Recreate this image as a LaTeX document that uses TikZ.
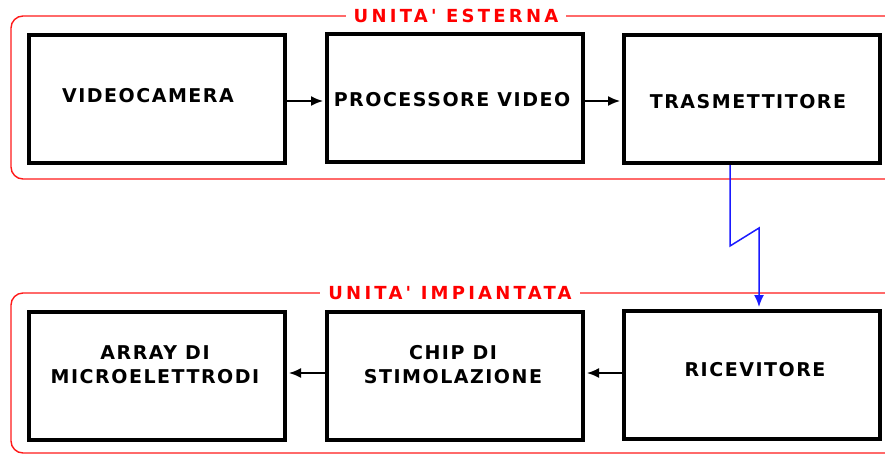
\documentclass[tikz,border=0pt]{standalone}
\usepackage{fontspec}
\setmainfont{DejaVu Sans}
\newfontfamily\boxfont[LetterSpace=8]{DejaVu Sans}
\newfontfamily\tagfont[LetterSpace=18]{DejaVu Sans}
\usepackage{tikz}
\usetikzlibrary{arrows.meta}
\definecolor{frame}{HTML}{FF1A1A}
\definecolor{link}{HTML}{1A1AFF}

\begin{document}
\begin{tikzpicture}[x=1pt,y=-1pt,
  box/.style={draw=black,line width=4pt,fill=white,minimum width=256pt,minimum height=128pt,inner sep=0pt},
  txt/.style={align=center,inner sep=0pt,font=\boxfont\bfseries\fontsize{19}{24}\selectfont},
  unit/.style={draw=frame,line width=1.4pt,rounded corners=12pt},
  tag/.style={fill=white,text=red,inner xsep=8pt,inner ysep=1pt,font=\tagfont\bfseries\fontsize{18}{20}\selectfont},
  arr/.style={-{Latex[length=12pt,width=10pt]},line width=1.6pt,shorten >=2pt},
  zap/.style={-{Latex[length=12pt,width=10pt]},line width=1.5pt,link,shorten >=2pt}]
  \useasboundingbox (0,0) rectangle (885,456);
  \clip (0,0) rectangle (885,456);
  % the two units
  \draw[unit] (11,16) rectangle (900,179);
  \draw[unit] (11,293) rectangle (900,453);
  \node[tag] (est) at (456,16) {UNITA' ESTERNA};
  \node[tag] (imp) at (450,293) {UNITA' IMPIANTATA};
  % external unit
  \node[box] (cam) at (157,99) {};
  \node[box] (proc) at (455,98) {};
  \node[box] (tx) at (752,99) {};
  \node[txt] (camt) at (148,96) {VIDEOCAMERA};
  \node[txt] (proct) at (452,100) {PROCESSORE VIDEO};
  \node[txt] (txt) at (748,102) {TRASMETTITORE};
  % implanted unit
  \node[box] (arr) at (157,376) {};
  \node[box] (chip) at (455,376) {};
  \node[box] (rx) at (752,375) {};
  \node[txt] (arrt) at (155,365) {ARRAY DI\\MICROELETTRODI};
  \node[txt] (chipt) at (453,365) {CHIP DI\\STIMOLAZIONE};
  \node[txt] (rxt) at (755,370) {RICEVITORE};
  \draw[arr] ([yshift=-2pt]cam.east) -- ([yshift=-3pt]proc.west);
  \draw[arr] ([yshift=-3pt]proc.east) -- ([yshift=-2pt]tx.west);
  \draw[arr] ([yshift=2pt]rx.west) -- ([yshift=3pt]chip.east);
  \draw[arr] ([yshift=3pt]chip.west) -- ([yshift=3pt]arr.east);
  % radio link
  \draw[zap] ([xshift=-22pt]tx.south) -- ++(0,81) -- ++(29,-18) -- ([xshift=7pt]rx.north);
\end{tikzpicture}
\end{document}
